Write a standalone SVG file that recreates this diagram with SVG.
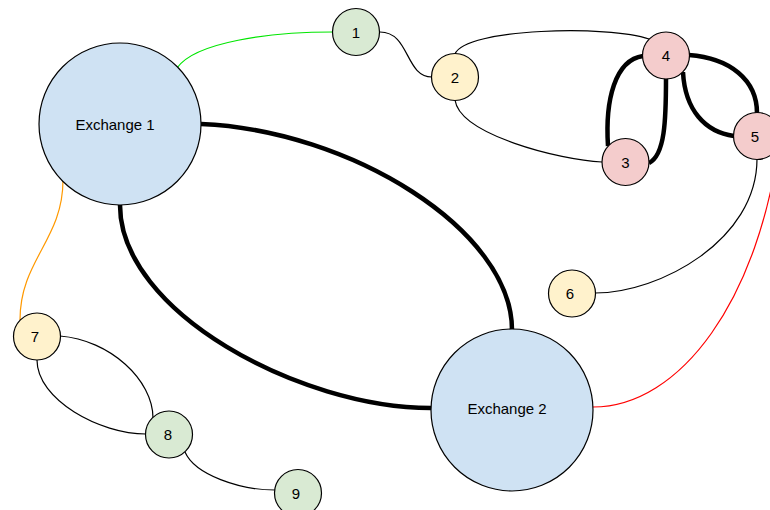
<svg xmlns="http://www.w3.org/2000/svg" width="770" height="510" viewBox="0 0 770 510">
  <style>
    .node { stroke: #000; stroke-width: 1.2; }
    .ex { fill: #cfe2f3; }
    .g { fill: #d9ead3; }
    .y { fill: #fff2cc; }
    .p { fill: #f4cccc; }
    .lbl { font-family: "Liberation Sans", Arial, sans-serif; font-size: 15px; fill: #000; text-anchor: middle; }
    .e { fill: none; stroke: #000; stroke-width: 1.2; }
    .thick { fill: none; stroke: #000; stroke-width: 4.5; }
  </style>
  <rect width="770" height="510" fill="#fff"/>
  <g id="connectors">
    <path class="thick" d="M201,124 C350,130 512,230 512,330"/>
    <path class="thick" d="M120,205 C120,312 300,408 431,408"/>
    <path class="thick" d="M608,146 C605,100 615,60 643,56"/>
    <path class="thick" d="M666,78 C666,120 665,155 649,163"/>
    <path class="thick" d="M689,55 C730,58 757,80 757,113"/>
    <path class="thick" d="M683,72 C685,110 705,132 734,136"/>
    <path class="e" style="stroke:#00e600" d="M177,68 C195,42 270,32 333,32"/>
    <path class="e" d="M380,32 C410,32 405,77 432,77"/>
    <path class="e" d="M455,54 C465,28 610,25 649,39"/>
    <path class="e" d="M455,100 C460,135 560,160 602,162"/>
    <path class="e" d="M757,159 C757,240 660,293 595,293"/>
    <path class="e" style="stroke:#ff0000" d="M593,407 C680,407 760,300 780,136"/>
    <path class="e" style="stroke:#ff9900" d="M63,180 C63,240 20,260 20,320"/>
    <path class="e" d="M60,336 C110,340 153,380 153,418"/>
    <path class="e" d="M37,360 C37,400 100,434 146,434"/>
    <path class="e" d="M185,452 C195,475 240,490 275,490"/>
  </g>
  <g id="exchange1">
    <circle class="node ex" cx="120" cy="124" r="81"/>
    <text class="lbl" x="115" y="130">Exchange 1</text>
  </g>
  <g id="exchange2">
    <circle class="node ex" cx="512" cy="410" r="81"/>
    <text class="lbl" x="507" y="414">Exchange 2</text>
  </g>
  <g id="n1">
    <circle class="node g" cx="356" cy="32" r="23.5"/>
    <text class="lbl" x="356" y="37.5">1</text>
  </g>
  <g id="n2">
    <circle class="node y" cx="455" cy="77" r="23.5"/>
    <text class="lbl" x="455" y="82.5">2</text>
  </g>
  <g id="n3">
    <circle class="node p" cx="625.5" cy="162" r="23.5"/>
    <text class="lbl" x="625.5" y="167.5">3</text>
  </g>
  <g id="n4">
    <circle class="node p" cx="666" cy="55.5" r="23.5"/>
    <text class="lbl" x="666" y="61">4</text>
  </g>
  <g id="n5">
    <circle class="node p" cx="757" cy="136" r="23.5"/>
    <text class="lbl" x="755" y="141.5">5</text>
  </g>
  <g id="n6">
    <circle class="node y" cx="572" cy="293.5" r="23.5"/>
    <text class="lbl" x="570" y="299">6</text>
  </g>
  <g id="n7">
    <circle class="node y" cx="37" cy="336.5" r="23.5"/>
    <text class="lbl" x="35" y="342">7</text>
  </g>
  <g id="n8">
    <circle class="node g" cx="169" cy="434.5" r="23.5"/>
    <text class="lbl" x="168" y="440">8</text>
  </g>
  <g id="n9">
    <circle class="node g" cx="298" cy="493" r="23.5"/>
    <text class="lbl" x="296" y="498.5">9</text>
  </g>
</svg>
